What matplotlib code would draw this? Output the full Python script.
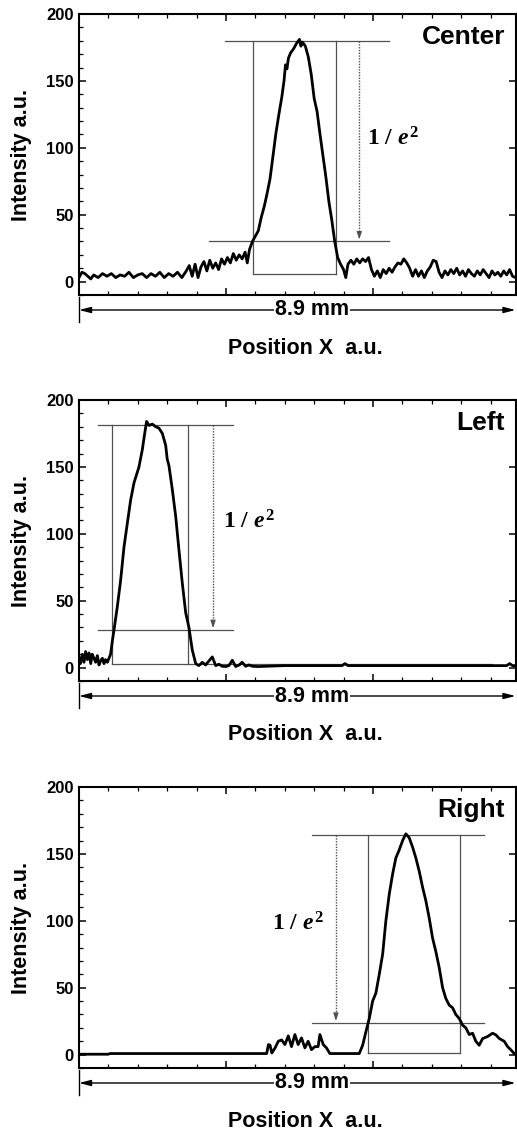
import matplotlib
matplotlib.use("Agg")
import matplotlib.pyplot as plt
from matplotlib.ticker import MultipleLocator

plt.rcParams['font.family'] = ['Liberation Sans', 'DejaVu Sans']
plt.rcParams['font.weight'] = 'bold'
plt.rcParams['mathtext.fontset'] = 'custom'
plt.rcParams['mathtext.rm'] = 'Liberation Serif:bold'
plt.rcParams['mathtext.it'] = 'Liberation Serif:italic:bold'
plt.rcParams['mathtext.bf'] = 'Liberation Serif:bold'

# ---------------- data ----------------
center_x = [0, 2, 4, 6, 8, 10, 13, 16, 19, 22, 25, 28, 31, 34, 37, 40, 43, 46, 49, 52,
            55, 58, 61, 64, 67, 70, 73, 75, 77, 79, 81, 83, 85, 87, 89, 91, 93, 95, 97, 99,
            101, 103, 105, 107, 109, 111, 113, 114.5, 116, 118, 120, 122, 124, 126, 128, 130, 132, 134, 136, 138,
            139.5, 140.5, 141.5, 142.5, 144, 146, 148, 150, 151, 152, 154, 156, 158, 160, 162, 164, 166, 168, 170, 172,
            174, 176, 178, 180, 181.5, 183, 185, 187, 189, 191, 193, 195, 197, 199, 201, 203, 205, 207, 209, 211,
            213, 215, 217, 219, 221, 223, 225, 227, 229, 231, 233, 235, 237, 239, 241, 243, 245, 247, 249, 251,
            253, 255, 257, 259, 261, 263, 265, 267, 269, 271, 273, 275, 277, 279, 281, 283, 285, 287, 289, 291,
            293, 295, 297]
center_y = [3, 7, 6, 4, 2, 5, 3, 6, 4, 6, 3, 5, 4, 7, 3, 5, 6, 3, 6, 4,
            7, 3, 6, 4, 7, 3, 8, 12, 4, 13, 3, 11, 15, 8, 16, 10, 14, 9, 17, 13,
            18, 14, 21, 16, 20, 17, 22, 14, 24, 30, 34, 38, 48, 56, 66, 77, 94, 111, 125, 138,
            150, 162, 159, 167, 171, 174, 178, 181, 176, 179, 176, 168, 155, 137, 127, 110, 94, 78, 60, 46,
            30, 18, 13, 9, 3, 13, 16, 13, 17, 14, 17, 15, 18, 9, 4, 8, 3, 9, 6, 10,
            7, 11, 14, 13, 17, 14, 10, 4, 9, 4, 8, 3, 8, 11, 16, 15, 7, 3, 8, 5,
            9, 6, 10, 5, 8, 4, 9, 6, 4, 8, 5, 9, 6, 3, 8, 5, 7, 4, 8, 5,
            9, 4, 3]

left_x = [0, 1, 2.3, 3.4, 4.5, 5.7, 6.8, 8, 9, 10.2, 11.3, 12.5, 13.6, 14.7, 15.9, 17, 18, 19.3, 20.4, 21.5,
          22.7, 23.8, 26, 28.3, 30.6, 32.9, 35.1, 37.4, 40.8, 43.1, 44.7, 46, 47.6, 49.9, 52.2, 54.4, 56.7, 59, 60, 61.2,
          63.5, 65.8, 68, 70.3, 72.6, 74.8, 77.1, 79.4, 81.6, 83.9, 86.2, 88.4, 90.7, 93, 95.2, 97.5, 99.8, 102, 104.3, 106.6,
          109, 111, 113.4, 115.6, 118, 122, 127, 140, 160, 179, 181, 183, 200, 220, 240, 260, 280, 291, 293, 295,
          297]
left_y = [8, 3, 10, 4, 12, 6, 11, 3, 10, 7, 4, 9, 2, 5, 7, 3, 6, 4, 7, 10,
          20, 28, 45, 65, 90, 108, 125, 138, 150, 163, 175, 184, 181, 182, 180, 179, 175, 166, 156, 151,
          133, 113, 88, 63, 41, 30, 13, 3, 1.5, 4, 2, 5, 8, 1.5, 2.5, 1, 0.8, 1.5, 5.5, 0.8,
          2, 4, 1, 2, 1, 0.8, 1, 1.5, 1.5, 1.5, 3, 1.5, 1.5, 1.5, 1.5, 1.5, 1.5, 1.5, 3, 1.5,
          1.5]

right_x = [0, 20, 21, 60, 100, 127.7, 128.9, 130, 131.2, 133.4, 135.6, 137.9, 140.1, 142.4, 144.6,
           146.9, 149.1, 151.4, 153.7, 155.9, 158.2, 160.5, 162.7, 163.9, 166.2, 168.4, 170.7, 180, 190.7, 193,
           195.2, 197.5, 199.8, 202, 204.3, 206.6, 208.8, 211.1, 213.4, 215.6, 217.9, 220.2, 222.4, 224.7, 227,
           229.2, 231.5, 233.8, 236, 238.3, 240.6, 242.8, 245.1, 247.4, 249.6, 251.9, 254.2, 256.4, 258.7, 261,
           263.2, 265.5, 267.8, 270, 272.3, 274.6, 278, 281.4, 283.7, 286, 289.3, 291.6, 293.9, 296.1, 297]
right_y = [0.3, 0.3, 0.8, 0.8, 0.8, 0.8, 7.5, 7, 1.2, 5, 10, 11, 7.5, 14, 6,
           15, 7.5, 12.5, 5, 10, 3.7, 6, 6, 15, 7.5, 5, 0.8, 0.8, 0.8, 7,
           17, 27, 40, 46, 60, 75, 100, 120, 135, 147, 153, 160, 165, 162, 155,
           147, 137, 125, 115, 102, 87, 77, 65, 50, 42, 37, 35, 30, 27, 22,
           20, 15, 16, 10, 7, 12, 13.5, 16, 14.7, 12, 10, 6, 3.5, 0.8, 0.5]

panel_names = ['Center', 'Left', 'Right']
peak_level = [180, 181, 164.5]
low_level = [30, 28, 23.7]
base_level = [5.5, 3, 1.2]
hline_start = [(99.3, 88.4), (13, 13), (158.8, 158.8)]   # (peak line, 1/e^2 line)
hline_end = [211, 105, 275.5]
vlines = [(118.6, 174.8), (22.2, 74.0), (196.6, 259.0)]
base_span = [(118.6, 174.8), (22.2, 280.7), (196.6, 259.0)]
arrow_x = [190.7, 91.2, 174.8]
label_pos = [(196, 107), (98, 109), (131.3, 97.7)]
width_text = '8.9 mm'

profiles = [(center_x, center_y), (left_x, left_y), (right_x, right_y)]

# ---------------- figure ----------------
W, H = 517, 1131
fig = plt.figure(figsize=(W / 100, H / 100), dpi=100)
ax_left = 79 / W
ax_w = 436.5 / W
ax_h = 281 / H
tops = [14, 400, 787]

gray = '#505050'
for i, top in enumerate(tops):
    bottom = 1 - (top + 281) / H
    ax = fig.add_axes([ax_left, bottom, ax_w, ax_h])
    xs, ys = profiles[i]
    ax.plot(xs, ys, color='black', lw=2.0, solid_joinstyle='round', solid_capstyle='round', zorder=3)

    # guide lines
    ax.plot([hline_start[i][0], hline_end[i]], [peak_level[i]] * 2, color=gray, lw=0.9, zorder=2)
    ax.plot([hline_start[i][1], hline_end[i]], [low_level[i]] * 2, color=gray, lw=0.9, zorder=2)
    ax.plot(list(base_span[i]), [base_level[i]] * 2, color=gray, lw=0.9, zorder=2)
    for vx in vlines[i]:
        ax.plot([vx, vx], [base_level[i], peak_level[i]], color=gray, lw=0.9, zorder=2)
    # dotted arrow
    ax.plot([arrow_x[i], arrow_x[i]], [peak_level[i], low_level[i] + 5], color=gray,
            lw=1.0, ls=(0, (1, 1)), zorder=2)
    ax.annotate('', xy=(arrow_x[i], low_level[i] + 1.5), xytext=(arrow_x[i], low_level[i] + 6),
                arrowprops=dict(arrowstyle='-|>,head_length=0.45,head_width=0.15',
                                color=gray, lw=0.8, shrinkA=0, shrinkB=0))
    ax.text(label_pos[i][0], label_pos[i][1], r'$1\ /\ \mathit{e}^{2}$', fontsize=17,
            ha='left', va='center', color='black')

    ax.text(0.976, 0.918, panel_names[i], transform=ax.transAxes, ha='right', va='center',
            fontsize=19, fontweight='bold')

    ax.set_xlim(0, 297)
    ax.set_ylim(-10, 200)
    ax.xaxis.set_major_locator(MultipleLocator(100))
    ax.xaxis.set_minor_locator(MultipleLocator(20))
    ax.yaxis.set_major_locator(MultipleLocator(50))
    ax.yaxis.set_minor_locator(MultipleLocator(10))
    ax.tick_params(which='both', direction='in', top=True, right=True, labelbottom=False)
    ax.tick_params(which='major', length=5, width=1.1)
    ax.tick_params(which='minor', length=2.8, width=0.9)
    ax.tick_params(axis='y', which='minor', right=False)
    ax.tick_params(axis='y', labelsize=12, pad=4)
    for lab in ax.get_yticklabels():
        lab.set_fontweight('bold')
    for sp in ax.spines.values():
        sp.set_linewidth(1.5)

    ax.text(-0.1306, 0.5, 'Intensity a.u.', transform=ax.transAxes, rotation=90,
            ha='center', va='center', fontsize=15.5, fontweight='bold')

    # width arrow below the axis
    yb = -15 / 281
    ax.plot([0, 0], [-0.007, -0.096], transform=ax.transAxes, color='black', lw=1.0, clip_on=False)
    ax.annotate('', xy=(0.0, yb), xytext=(1.0, yb), xycoords='axes fraction', textcoords='axes fraction',
                arrowprops=dict(arrowstyle='<|-|>,head_length=0.7,head_width=0.18', color='black',
                                lw=1.0, shrinkA=0, shrinkB=0))
    ax.text(0.534, yb, width_text, transform=ax.transAxes, ha='center', va='center', fontsize=15.5,
            fontweight='bold', bbox=dict(facecolor='white', edgecolor='none', pad=0.5))
    ax.text(0.518, -0.189, 'Position X  a.u.', transform=ax.transAxes, ha='center', va='center',
            fontsize=15.5, fontweight='bold')

fig.savefig('out.png', dpi=100)
